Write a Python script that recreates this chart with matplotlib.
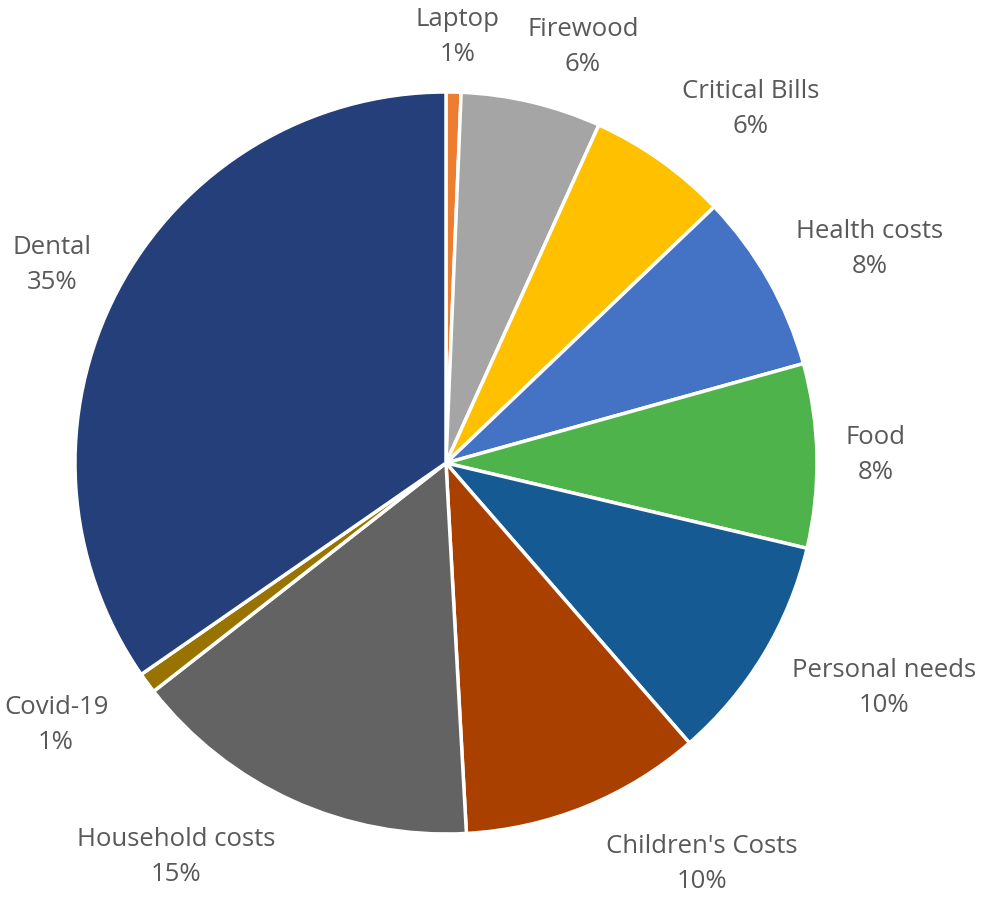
import matplotlib.pyplot as plt

# slices clockwise from 12 o'clock
categories = ['Laptop', 'Firewood', 'Critical Bills', 'Health costs', 'Food',
              'Personal needs', "Children's Costs", 'Household costs',
              'Covid-19', 'Dental']
shares = [0.65, 6.1, 6.1, 7.8, 8.0, 9.9, 10.5, 15.3, 0.9, 34.6]
pct_labels = ['1%', '6%', '6%', '8%', '8%', '10%', '10%', '15%', '1%', '35%']
colors = ['#ED7D31', '#A5A5A5', '#FFC000', '#4472C4', '#4EB34A',
          '#155A92', '#AA4000', '#636363', '#997300', '#243F7A']

# label centres relative to the pie centre, in pie radii
label_xy = [(0.032, 1.148), (0.369, 1.121), (0.822, 0.954), (1.143, 0.577),
            (1.159, 0.022), (1.181, -0.606), (0.690, -1.081),
            (-0.728, -1.062), (-1.051, -0.706), (-1.062, 0.534)]

plt.rcParams['font.family'] = ['Open Sans', 'DejaVu Sans']

fig = plt.figure(figsize=(9.83, 8.97), dpi=100)
ax = fig.add_axes([0, 0, 1, 1])

wedges, _ = ax.pie(shares, colors=colors, startangle=90, counterclock=False,
                   radius=1.0, center=(0, 0),
                   wedgeprops=dict(edgecolor='white', linewidth=2.5))

for cat, pct, (x, y) in zip(categories, pct_labels, label_xy):
    ax.text(x, y, f'{cat}\n{pct}', ha='center', va='center',
            fontsize=18.5, color='#595959', linespacing=1.55)

ax.set_xlim(-446 / 371, (983 - 446) / 371)
ax.set_ylim(-434 / 371, 463 / 371)
ax.set_aspect('auto')
ax.axis('off')

fig.savefig('out.png', dpi=100)
